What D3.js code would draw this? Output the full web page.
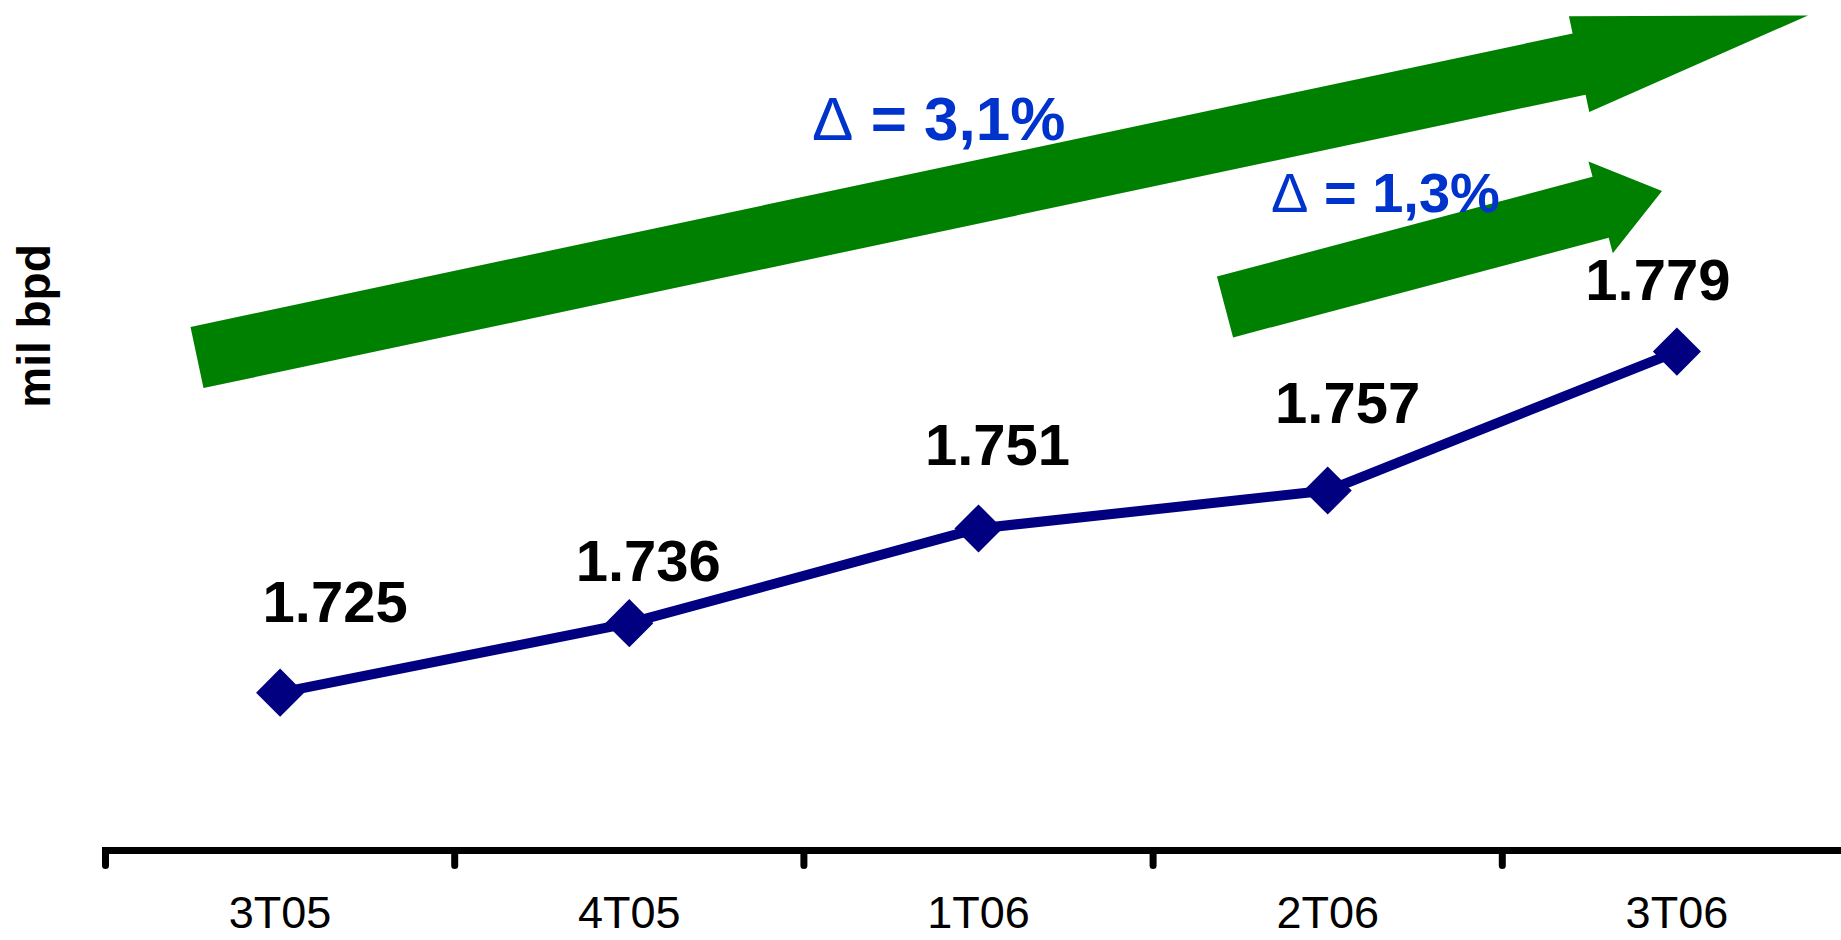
<!DOCTYPE html>
<html>
<head>
<meta charset="utf-8">
<script src="https://cdn.jsdelivr.net/npm/d3@7"></script>
<style>
  html, body { margin: 0; padding: 0; background: #ffffff; }
  svg { display: block; }
  text { font-family: "Liberation Sans", Arial, sans-serif; }
</style>
</head>
<body>
<svg id="chart" width="1841" height="940"></svg>
<script>
// Quarterly production, thousand barrels per day
const quarters = ["3T05", "4T05", "1T06", "2T06", "3T06"];
const production = [1725, 1736, 1751, 1757, 1779];
const valueDomain = [1700, 1800];
const axisTitle = "mil bpd";

// pt-BR number formatting: "." for thousands, "," for decimals
const ptBR = d3.formatLocale({ decimal: ",", thousands: ".", grouping: [3], currency: ["R$", ""] });
const fmtValue = ptBR.format(",.0f");
const fmtPct = ptBR.format(".1%");

const W = 1841, H = 940;
const svg = d3.select("#chart");

const x = d3.scaleBand().domain(quarters).range([105.5, 1851.5]).paddingInner(0).paddingOuter(0);
const y = d3.scaleLinear().domain(valueDomain).range([850.5, 219]);
const cx = q => x(q) + x.bandwidth() / 2;

const data = quarters.map((q, i) => ({ q, v: production[i] }));

// ---- growth arrows ----
function arrowPath(tail, tip, shaftW, headW, headLen) {
  const dx = tip[0] - tail[0], dy = tip[1] - tail[1];
  const len = Math.hypot(dx, dy);
  const ux = dx / len, uy = dy / len;
  const nx = -uy, ny = ux;
  const bx = tip[0] - ux * headLen, by = tip[1] - uy * headLen;
  const s = shaftW / 2, h = headW / 2;
  const pts = [
    [tail[0] - nx * s, tail[1] - ny * s],
    [bx - nx * s, by - ny * s],
    [bx - nx * h, by - ny * h],
    tip,
    [bx + nx * h, by + ny * h],
    [bx + nx * s, by + ny * s],
    [tail[0] + nx * s, tail[1] + ny * s]
  ];
  return d3.line()(pts) + "Z";
}

const arrows = svg.append("g").attr("fill", "#008000");
arrows.append("path").attr("d", arrowPath([197, 357.5], [1808, 15.5], 62.5, 98, 234));
arrows.append("path").attr("d", arrowPath([1225, 307], [1662, 191], 63, 95, 63.5));

// growth labels
const first = production[0], prev = production[production.length - 2], last = production[production.length - 1];
const growth = [
  { pct: last / first - 1, x: 812, y: 140, size: 62 },
  { pct: last / prev - 1, x: 1271, y: 212, size: 56 }
];
growth.forEach(g => {
  const t = svg.append("text")
    .attr("x", g.x).attr("y", g.y)
    .attr("fill", "#0033cc")
    .attr("font-size", g.size);
  t.append("tspan").attr("font-weight", "normal").text("\u0394");
  t.append("tspan").attr("font-weight", "bold").text(" = " + fmtPct(g.pct));
});

// ---- axis ----
const axisG = svg.append("g");
axisG.append("line")
  .attr("x1", 102).attr("x2", W)
  .attr("y1", y(valueDomain[0])).attr("y2", y(valueDomain[0]))
  .attr("stroke", "#000").attr("stroke-width", 7);
axisG.selectAll("line.tick")
  .data(quarters)
  .join("line")
  .attr("class", "tick")
  .attr("x1", d => x(d)).attr("x2", d => x(d))
  .attr("y1", y(valueDomain[0])).attr("y2", y(valueDomain[0]) + 15)
  .attr("stroke", "#000").attr("stroke-width", 7).attr("stroke-linecap", "round");

const labelsG = svg.append("g")
  .attr("transform", `translate(0,${y(valueDomain[0])})`)
  .call(d3.axisBottom(x).tickSize(0).tickPadding(46));
labelsG.select(".domain").remove();
labelsG.selectAll("text")
  .attr("font-family", "Liberation Sans, Arial, sans-serif")
  .attr("font-size", 45)
  .attr("fill", "#000");

// axis title
svg.append("text")
  .attr("transform", "translate(50,326) rotate(-90)")
  .attr("text-anchor", "middle")
  .attr("font-size", 46)
  .attr("font-weight", "bold")
  .attr("fill", "#000")
  .text(axisTitle);

// ---- production line ----
svg.append("path")
  .datum(data)
  .attr("fill", "none")
  .attr("stroke", "#000080")
  .attr("stroke-width", 10)
  .attr("stroke-linejoin", "round")
  .attr("d", d3.line().x(d => cx(d.q)).y(d => y(d.v)));

svg.selectAll("path.marker")
  .data(data)
  .join("path")
  .attr("class", "marker")
  .attr("fill", "#000080")
  .attr("transform", d => `translate(${cx(d.q)},${y(d.v)}) rotate(45)`)
  .attr("d", d3.symbol(d3.symbolSquare, 34 * 34));

// value labels, nudged individually around each marker
const labelOffsets = [[55, -71], [19, -42], [19, -63], [20, -68], [-19, -52]];
svg.selectAll("text.value")
  .data(data)
  .join("text")
  .attr("class", "value")
  .attr("x", (d, i) => cx(d.q) + labelOffsets[i][0])
  .attr("y", (d, i) => y(d.v) + labelOffsets[i][1])
  .attr("text-anchor", "middle")
  .attr("font-size", 58)
  .attr("font-weight", "bold")
  .attr("fill", "#000")
  .text(d => fmtValue(d.v));
</script>
</body>
</html>
